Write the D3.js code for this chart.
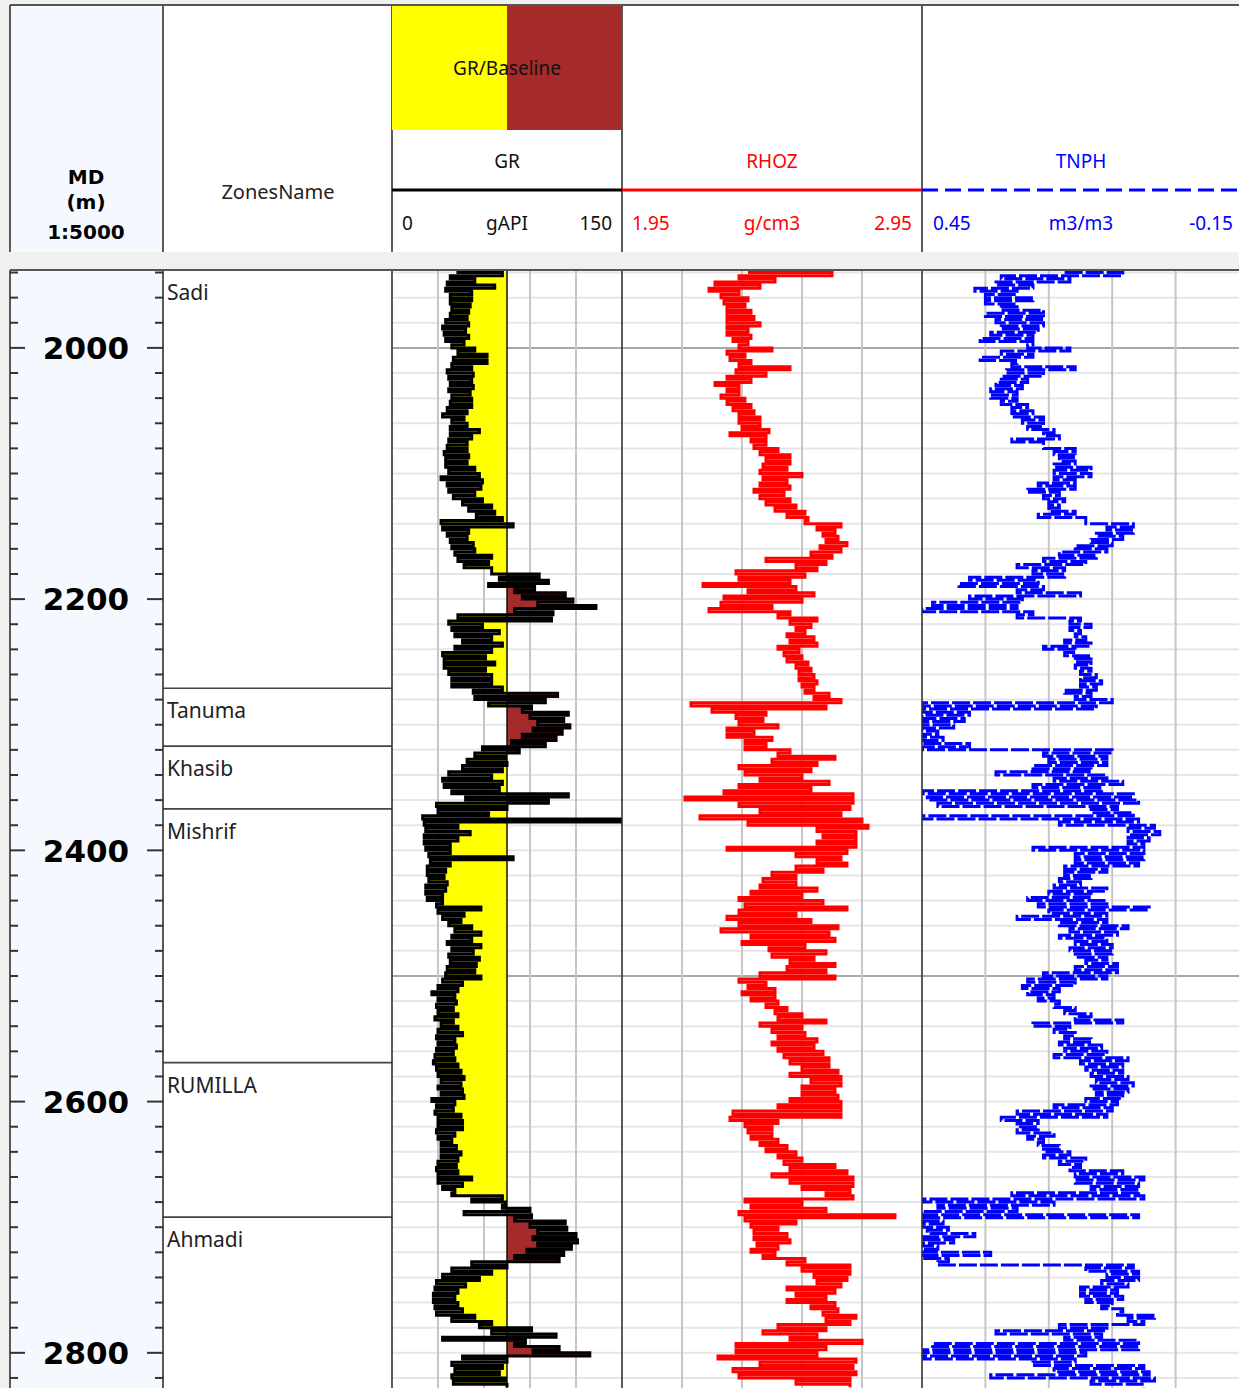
<!DOCTYPE html>
<html>
<head>
<meta charset="utf-8">
<script src="https://cdn.jsdelivr.net/npm/d3@7"></script>
<style>
body { margin: 0; background: #f0f0f0; }
svg { display: block; }
</style>
</head>
<body>
<script>
var W = 1239, H = 1388;
var depthTop = 1938, depthBottom = 2828;

// log samples every 5 m from 1940 m, one row = 50 m; lo/hi = envelope
var depths = d3.range(1940, 2826, 5);

var grLo = [
  42, 38, 36, 35, 38, 38, 39, 38, 35, 33,
  34, 35, 39, 43, 40, 39, 36, 37, 38, 37,
  39, 38, 36, 33, 39, 38, 38, 37, 36, 34,
  35, 35, 37, 32, 36, 37, 40, 46, 50, 55,
  32, 33, 36, 38, 39, 41, 43, 47, 65, 70,
  63, 80, 85, 95, 80, 43, 37, 39, 41, 46,
  41, 33, 34, 34, 37, 39, 39, 53, 54, 63,
  85, 90, 95, 92, 85, 78, 59, 54, 49, 46,
  37, 33, 34, 39, 48, 29, 30, 20, 21, 22,
  21, 21, 22, 24, 25, 23, 23, 24, 22, 22,
  23, 29, 30, 33, 37, 41, 39, 36, 39, 37,
  38, 36, 35, 33, 30, 26, 30, 29, 30, 28,
  32, 30, 29, 30, 29, 28, 27, 29, 30, 32,
  30, 32, 26, 29, 28, 30, 30, 29, 30, 32,
  32, 32, 30, 29, 30, 30, 33, 39, 52, 72,
  47, 80, 90, 95, 92, 95, 88, 80, 52, 39,
  33, 29, 28, 27, 27, 28, 29, 39, 57, 65,
  33, 80, 92, 46, 39, 41, 39, 40
];
var grHi = [
  72, 54, 67, 52, 52, 51, 50, 49, 50, 48,
  50, 47, 54, 62, 62, 52, 53, 52, 53, 51,
  52, 52, 49, 47, 49, 57, 52, 49, 49, 50,
  49, 54, 57, 59, 58, 54, 59, 65, 67, 72,
  79, 50, 49, 53, 54, 65, 63, 65, 96, 102,
  93, 113, 118, 133, 105, 104, 59, 70, 65, 72,
  65, 61, 67, 61, 65, 65, 72, 108, 100, 91,
  115, 112, 116, 111, 107, 100, 83, 74, 75, 72,
  65, 72, 70, 115, 102, 75, 63, 160, 43, 51,
  43, 38, 38, 79, 38, 35, 34, 36, 35, 33,
  33, 58, 47, 45, 52, 58, 52, 58, 53, 57,
  55, 54, 58, 46, 43, 41, 42, 40, 43, 40,
  43, 46, 41, 42, 40, 41, 43, 45, 47, 45,
  46, 47, 41, 40, 45, 46, 46, 41, 39, 42,
  45, 43, 42, 43, 52, 46, 41, 72, 74, 90,
  91, 113, 114, 120, 121, 117, 112, 109, 75, 65,
  57, 48, 43, 41, 43, 46, 54, 65, 91, 107,
  87, 109, 129, 75, 72, 70, 74, 75
];

var rhozLo = [
  2.37, 2.34, 2.26, 2.24, 2.28, 2.29, 2.30, 2.30, 2.30, 2.30,
  2.30, 2.32, 2.34, 2.30, 2.31, 2.34, 2.33, 2.30, 2.26, 2.30,
  2.28, 2.30, 2.32, 2.34, 2.34, 2.35, 2.31, 2.38, 2.39, 2.41,
  2.43, 2.42, 2.41, 2.42, 2.41, 2.39, 2.41, 2.43, 2.46, 2.50,
  2.56, 2.60, 2.62, 2.63, 2.61, 2.58, 2.43, 2.53, 2.33, 2.34,
  2.22, 2.37, 2.29, 2.28, 2.24, 2.47, 2.51, 2.53, 2.50, 2.51,
  2.47, 2.49, 2.50, 2.53, 2.54, 2.54, 2.55, 2.56, 2.59, 2.18,
  2.25, 2.33, 2.34, 2.30, 2.30, 2.36, 2.36, 2.47, 2.45, 2.34,
  2.36, 2.41, 2.34, 2.29, 2.16, 2.34, 2.41, 2.21, 2.37, 2.60,
  2.62, 2.60, 2.30, 2.53, 2.60, 2.53, 2.45, 2.42, 2.41, 2.38,
  2.34, 2.36, 2.34, 2.30, 2.34, 2.28, 2.38, 2.35, 2.44, 2.45,
  2.51, 2.50, 2.41, 2.34, 2.37, 2.35, 2.38, 2.43, 2.46, 2.47,
  2.41, 2.45, 2.47, 2.45, 2.47, 2.49, 2.51, 2.55, 2.51, 2.58,
  2.55, 2.55, 2.51, 2.47, 2.32, 2.31, 2.36, 2.37, 2.38, 2.41,
  2.43, 2.47, 2.49, 2.51, 2.45, 2.51, 2.55, 2.63, 2.36, 2.38,
  2.34, 2.36, 2.38, 2.39, 2.39, 2.40, 2.38, 2.42, 2.50, 2.55,
  2.59, 2.60, 2.50, 2.53, 2.50, 2.58, 2.62, 2.63, 2.47, 2.42,
  2.51, 2.33, 2.33, 2.27, 2.41, 2.32, 2.34, 2.53
];
var rhozHi = [
  2.65, 2.46, 2.41, 2.34, 2.37, 2.36, 2.38, 2.39, 2.41, 2.37,
  2.38, 2.37, 2.45, 2.36, 2.38, 2.51, 2.43, 2.38, 2.34, 2.34,
  2.36, 2.38, 2.39, 2.41, 2.41, 2.44, 2.43, 2.43, 2.47, 2.51,
  2.51, 2.50, 2.55, 2.50, 2.51, 2.49, 2.51, 2.53, 2.56, 2.57,
  2.68, 2.66, 2.67, 2.70, 2.68, 2.65, 2.63, 2.60, 2.56, 2.51,
  2.53, 2.59, 2.55, 2.45, 2.51, 2.60, 2.58, 2.56, 2.59, 2.60,
  2.54, 2.55, 2.57, 2.58, 2.59, 2.60, 2.59, 2.64, 2.68, 2.63,
  2.43, 2.42, 2.47, 2.39, 2.45, 2.43, 2.51, 2.66, 2.60, 2.58,
  2.55, 2.64, 2.58, 2.72, 2.72, 2.71, 2.68, 2.75, 2.77, 2.73,
  2.73, 2.73, 2.70, 2.68, 2.70, 2.62, 2.53, 2.53, 2.60, 2.55,
  2.62, 2.70, 2.53, 2.58, 2.67, 2.64, 2.66, 2.56, 2.63, 2.59,
  2.66, 2.63, 2.66, 2.43, 2.46, 2.46, 2.47, 2.50, 2.55, 2.63,
  2.55, 2.56, 2.60, 2.59, 2.62, 2.64, 2.64, 2.67, 2.68, 2.68,
  2.66, 2.67, 2.68, 2.68, 2.68, 2.47, 2.45, 2.45, 2.47, 2.50,
  2.53, 2.55, 2.66, 2.70, 2.72, 2.72, 2.71, 2.72, 2.55, 2.63,
  2.86, 2.53, 2.47, 2.50, 2.51, 2.47, 2.46, 2.56, 2.71, 2.71,
  2.70, 2.68, 2.66, 2.63, 2.66, 2.67, 2.73, 2.71, 2.63, 2.60,
  2.75, 2.63, 2.60, 2.73, 2.72, 2.73, 2.71, 2.71
];

var tnphMin = [
  0.07, 0.17, 0.24, 0.27, 0.24, 0.27, 0.22, 0.22, 0.22, 0.23,
  0.24, 0.24, 0.17, 0.24, 0.27, 0.16, 0.22, 0.25, 0.26, 0.27,
  0.27, 0.25, 0.24, 0.22, 0.22, 0.20, 0.19, 0.22, 0.16, 0.16,
  0.16, 0.13, 0.13, 0.16, 0.16, 0.19, 0.18, 0.19, 0.16, 0.14,
  0.05, 0.05, 0.07, 0.09, 0.10, 0.12, 0.14, 0.18, 0.18, 0.23,
  0.22, 0.15, 0.26, 0.27, 0.24, 0.15, 0.13, 0.15, 0.14, 0.13,
  0.16, 0.13, 0.13, 0.13, 0.12, 0.11, 0.12, 0.13, 0.09, 0.12,
  0.36, 0.37, 0.39, 0.42, 0.41, 0.36, 0.09, 0.10, 0.10, 0.13,
  0.10, 0.07, 0.11, 0.05, 0.04, 0.08, 0.05, 0.04, 0.01, 0.00,
  0.02, 0.03, 0.03, 0.03, 0.04, 0.10, 0.13, 0.15, 0.10, 0.13,
  0.10, 0.02, 0.10, 0.10, 0.06, 0.08, 0.10, 0.09, 0.09, 0.10,
  0.08, 0.08, 0.10, 0.16, 0.19, 0.20, 0.19, 0.16, 0.13, 0.07,
  0.17, 0.16, 0.13, 0.11, 0.10, 0.06, 0.07, 0.07, 0.06, 0.05,
  0.06, 0.07, 0.08, 0.09, 0.10, 0.23, 0.23, 0.20, 0.22, 0.19,
  0.17, 0.14, 0.15, 0.07, 0.03, 0.04, 0.04, 0.03, 0.20, 0.27,
  0.04, 0.41, 0.40, 0.35, 0.39, 0.42, 0.32, 0.40, 0.05, 0.04,
  0.04, 0.06, 0.08, 0.07, 0.09, 0.07, 0.01, 0.03, 0.10, 0.11,
  0.04, 0.04, 0.14, 0.16, 0.03, 0.02, 0.01, 0.03
];
var tnphMax = [
  0.18, 0.30, 0.31, 0.35, 0.33, 0.33, 0.30, 0.33, 0.31, 0.30,
  0.32, 0.34, 0.25, 0.30, 0.34, 0.28, 0.29, 0.30, 0.31, 0.32,
  0.32, 0.30, 0.28, 0.28, 0.26, 0.25, 0.22, 0.28, 0.22, 0.20,
  0.19, 0.20, 0.20, 0.20, 0.23, 0.25, 0.22, 0.21, 0.21, 0.23,
  0.14, 0.10, 0.12, 0.13, 0.16, 0.19, 0.22, 0.27, 0.24, 0.36,
  0.38, 0.27, 0.36, 0.43, 0.45, 0.27, 0.17, 0.17, 0.16, 0.18,
  0.22, 0.18, 0.16, 0.16, 0.15, 0.15, 0.15, 0.18, 0.16, 0.45,
  0.45, 0.45, 0.45, 0.45, 0.45, 0.45, 0.45, 0.22, 0.21, 0.24,
  0.31, 0.20, 0.24, 0.45, 0.44, 0.42, 0.13, 0.45, 0.19, 0.06,
  0.06, 0.06, 0.24, 0.16, 0.16, 0.18, 0.18, 0.19, 0.20, 0.21,
  0.25, 0.23, 0.21, 0.27, 0.19, 0.17, 0.19, 0.16, 0.17, 0.16,
  0.14, 0.16, 0.22, 0.25, 0.26, 0.25, 0.23, 0.20, 0.18, 0.16,
  0.24, 0.20, 0.18, 0.19, 0.18, 0.20, 0.15, 0.14, 0.13, 0.12,
  0.13, 0.12, 0.14, 0.20, 0.27, 0.30, 0.27, 0.27, 0.25, 0.23,
  0.22, 0.22, 0.19, 0.17, 0.16, 0.16, 0.13, 0.28, 0.45, 0.42,
  0.45, 0.45, 0.45, 0.44, 0.45, 0.45, 0.45, 0.45, 0.42, 0.14,
  0.10, 0.11, 0.15, 0.15, 0.14, 0.11, 0.08, 0.06, 0.19, 0.31,
  0.18, 0.43, 0.45, 0.45, 0.24, 0.20, 0.32, 0.13
];

var zoneNames = ["Sadi", "Tanuma", "Khasib", "Mishrif", "RUMILLA", "Ahmadi"];
var zoneTops  = [1938, 2271, 2317, 2367, 2569, 2692];
var depthLabels = [2000, 2200, 2400, 2600, 2800];
var grBaseline = 75;

var colX = [10, 163, 392, 622, 922, W];
var trackTop = 270, headTop = 5, headBottom = 252;
var font = "'Noto Sans', sans-serif";
var boldFont = "'DejaVu Sans', Verdana, sans-serif";

var y    = d3.scaleLinear().domain([depthTop, depthBottom]).range([trackTop, H]);
var xGR  = d3.scaleLinear().domain([0, 150]).range([392, 622]);
var xRho = d3.scaleLinear().domain([1.95, 2.95]).range([622, 922]);
var xNph = d3.scaleLinear().domain([0.45, -0.15]).range([922, W]);

var svg = d3.select("body").append("svg").attr("width", W).attr("height", H);

svg.append("rect").attr("width", W).attr("height", H).attr("fill", "#f0f0f0");

// panels
[[headTop, headBottom], [trackTop, H]].forEach(function (r) {
    svg.append("rect").attr("x", 10).attr("y", r[0]).attr("width", W - 10).attr("height", r[1] - r[0]).attr("fill", "#fff");
    svg.append("rect").attr("x", 10).attr("y", r[0]).attr("width", 153).attr("height", r[1] - r[0]).attr("fill", "#f5f9ff");
});

var defs = svg.append("defs");
[["clipGR", xGR], ["clipRho", xRho], ["clipNph", xNph]].forEach(function (c) {
    var r = c[1].range();
    defs.append("clipPath").attr("id", c[0]).append("rect")
        .attr("x", Math.min(r[0], r[1])).attr("y", trackTop)
        .attr("width", Math.abs(r[1] - r[0])).attr("height", H - trackTop);
});

// grid lines
function grid(x, vticks) {
    var r = x.range();
    var g = svg.append("g");
    g.selectAll(".h").data(d3.range(1940, depthBottom, 20)).enter().append("line")
        .attr("x1", r[0]).attr("x2", r[1])
        .attr("y1", function (d) { return y(d); }).attr("y2", function (d) { return y(d); })
        .attr("stroke", function (d) { return d % 500 === 0 ? "#a8a8a8" : "#e6e6e6"; })
        .attr("stroke-width", 2);
    g.selectAll(".v").data(vticks).enter().append("line")
        .attr("x1", function (d) { return x(d); }).attr("x2", function (d) { return x(d); })
        .attr("y1", trackTop).attr("y2", H)
        .attr("stroke", "#c6c6c6").attr("stroke-width", 2);
}
grid(xGR, [30, 60, 90, 120]);
grid(xRho, [2.15, 2.35, 2.55, 2.75]);
grid(xNph, [0.33, 0.21, 0.09, -0.03]);

function zigzag(lo, hi) {
    var pts = [];
    depths.forEach(function (d, i) {
        pts.push([lo[i], d]);
        pts.push([hi[i], d + 2.5]);
    });
    return pts;
}

var grPts  = zigzag(grLo, grHi);
var rhoPts = zigzag(rhozLo, rhozHi);
var nphPts = zigzag(tnphMax, tnphMin);

// GR fills against baseline
var grTrack = svg.append("g").attr("clip-path", "url(#clipGR)");
grTrack.append("path")
    .attr("d", d3.area()
        .x0(xGR(grBaseline))
        .x1(function (p) { return xGR(Math.min(p[0], grBaseline)); })
        .y(function (p) { return y(p[1]); })
        .curve(d3.curveStepAfter)(grPts))
    .attr("fill", "#ffff00");
grTrack.append("path")
    .attr("d", d3.area()
        .x0(xGR(grBaseline))
        .x1(function (p) { return xGR(Math.max(p[0], grBaseline)); })
        .y(function (p) { return y(p[1]); })
        .curve(d3.curveStepAfter)(grPts))
    .attr("fill", "#a52a2a");
grTrack.append("line")
    .attr("x1", xGR(grBaseline)).attr("x2", xGR(grBaseline))
    .attr("y1", trackTop).attr("y2", H)
    .attr("stroke", "#111").attr("stroke-width", 1.5);
grTrack.append("path")
    .attr("d", d3.line().x(function (p) { return xGR(p[0]); }).y(function (p) { return y(p[1]); })
        .curve(d3.curveStepAfter)(grPts))
    .attr("fill", "none").attr("stroke", "#000").attr("stroke-width", 3);

svg.append("g").attr("clip-path", "url(#clipRho)").append("path")
    .attr("d", d3.line().x(function (p) { return xRho(p[0]); }).y(function (p) { return y(p[1]); })
        .curve(d3.curveStepAfter)(rhoPts))
    .attr("fill", "none").attr("stroke", "#ff0000").attr("stroke-width", 3);

svg.append("g").attr("clip-path", "url(#clipNph)").append("path")
    .attr("d", d3.line().x(function (p) { return xNph(p[0]); }).y(function (p) { return y(p[1]); })
        .curve(d3.curveStepAfter)(nphPts))
    .attr("fill", "none").attr("stroke", "#0000ff").attr("stroke-width", 3)
    .attr("stroke-dasharray", "18,3");

// zones
var zones = svg.append("g");
zones.selectAll("line").data(zoneTops.slice(1)).enter().append("line")
    .attr("x1", 163).attr("x2", 392)
    .attr("y1", function (d) { return y(d); }).attr("y2", function (d) { return y(d); })
    .attr("stroke", "#444").attr("stroke-width", 1.6);
zones.selectAll("text").data(zoneNames).enter().append("text")
    .attr("x", 167)
    .attr("y", function (d, i) { return y(zoneTops[i]) + 30; })
    .attr("font-family", font).attr("font-size", 21).attr("fill", "#222")
    .text(function (d) { return d; });

// depth track ticks + labels
var ticks = svg.append("g").attr("stroke", "#333").attr("stroke-width", 2);
d3.range(1940, depthBottom, 20).forEach(function (d) {
    var major = depthLabels.indexOf(d) >= 0;
    ticks.append("line").attr("x1", 10).attr("x2", major ? 25 : 18).attr("y1", y(d)).attr("y2", y(d));
    ticks.append("line").attr("x1", major ? 147 : 155).attr("x2", 163).attr("y1", y(d)).attr("y2", y(d));
});
svg.append("g").selectAll("text").data(depthLabels).enter().append("text")
    .attr("x", 86).attr("y", function (d) { return y(d); }).attr("dy", "0.36em")
    .attr("text-anchor", "middle")
    .attr("font-family", boldFont).attr("font-weight", "bold")
    .attr("font-size", 31).attr("fill", "#000")
    .text(function (d) { return d; });

// column borders
var borders = svg.append("g").attr("stroke", "#333").attr("stroke-width", 1.6);
colX.slice(0, 5).forEach(function (x) {
    borders.append("line").attr("x1", x).attr("x2", x).attr("y1", headTop).attr("y2", headBottom);
    borders.append("line").attr("x1", x).attr("x2", x).attr("y1", trackTop).attr("y2", H);
});
svg.append("line").attr("x1", 10).attr("x2", W).attr("y1", headTop).attr("y2", headTop)
    .attr("stroke", "#555").attr("stroke-width", 2);
svg.append("line").attr("x1", 10).attr("x2", W).attr("y1", trackTop).attr("y2", trackTop)
    .attr("stroke", "#555").attr("stroke-width", 2);

// header
var head = svg.append("g");
head.append("rect").attr("x", xGR(0)).attr("y", headTop + 1).attr("width", xGR(grBaseline) - xGR(0)).attr("height", 124).attr("fill", "#ffff00");
head.append("rect").attr("x", xGR(grBaseline)).attr("y", headTop + 1).attr("width", xGR(150) - xGR(grBaseline)).attr("height", 124).attr("fill", "#a52a2a");

function label(x, yy, txt, opts) {
    opts = opts || {};
    return head.append("text").attr("x", x).attr("y", yy)
        .attr("text-anchor", opts.anchor || "middle")
        .attr("font-family", opts.family || font)
        .attr("font-weight", opts.weight || "normal")
        .attr("font-size", opts.size || 19)
        .attr("fill", opts.color || "#111")
        .text(txt);
}

var bold = { family: boldFont, weight: "bold", size: 20, color: "#000" };
label(86, 184, "MD", bold);
label(86, 209, "(m)", bold);
label(86, 239, "1:5000", bold);

label(278, 199, "ZonesName", { size: 20, color: "#222" });
label(xGR(grBaseline), 75, "GR/Baseline");

label(507, 168, "GR");
label(772, 168, "RHOZ", { color: "#ff0000" });
label(1081, 168, "TNPH", { color: "#0000ff" });

head.append("line").attr("x1", 392).attr("x2", 622).attr("y1", 190).attr("y2", 190).attr("stroke", "#000").attr("stroke-width", 3);
head.append("line").attr("x1", 622).attr("x2", 922).attr("y1", 190).attr("y2", 190).attr("stroke", "#ff0000").attr("stroke-width", 3);
head.append("line").attr("x1", 922).attr("x2", W).attr("y1", 190).attr("y2", 190).attr("stroke", "#0000ff").attr("stroke-width", 3)
    .attr("stroke-dasharray", "16,7");

label(402, 230, "0", { anchor: "start" });
label(507, 230, "gAPI");
label(612, 230, "150", { anchor: "end" });
label(632, 230, "1.95", { anchor: "start", color: "#ff0000" });
label(772, 230, "g/cm3", { color: "#ff0000" });
label(912, 230, "2.95", { anchor: "end", color: "#ff0000" });
label(933, 230, "0.45", { anchor: "start", color: "#0000ff" });
label(1081, 230, "m3/m3", { color: "#0000ff" });
label(1233, 230, "-0.15", { anchor: "end", color: "#0000ff" });
</script>
</body>
</html>
